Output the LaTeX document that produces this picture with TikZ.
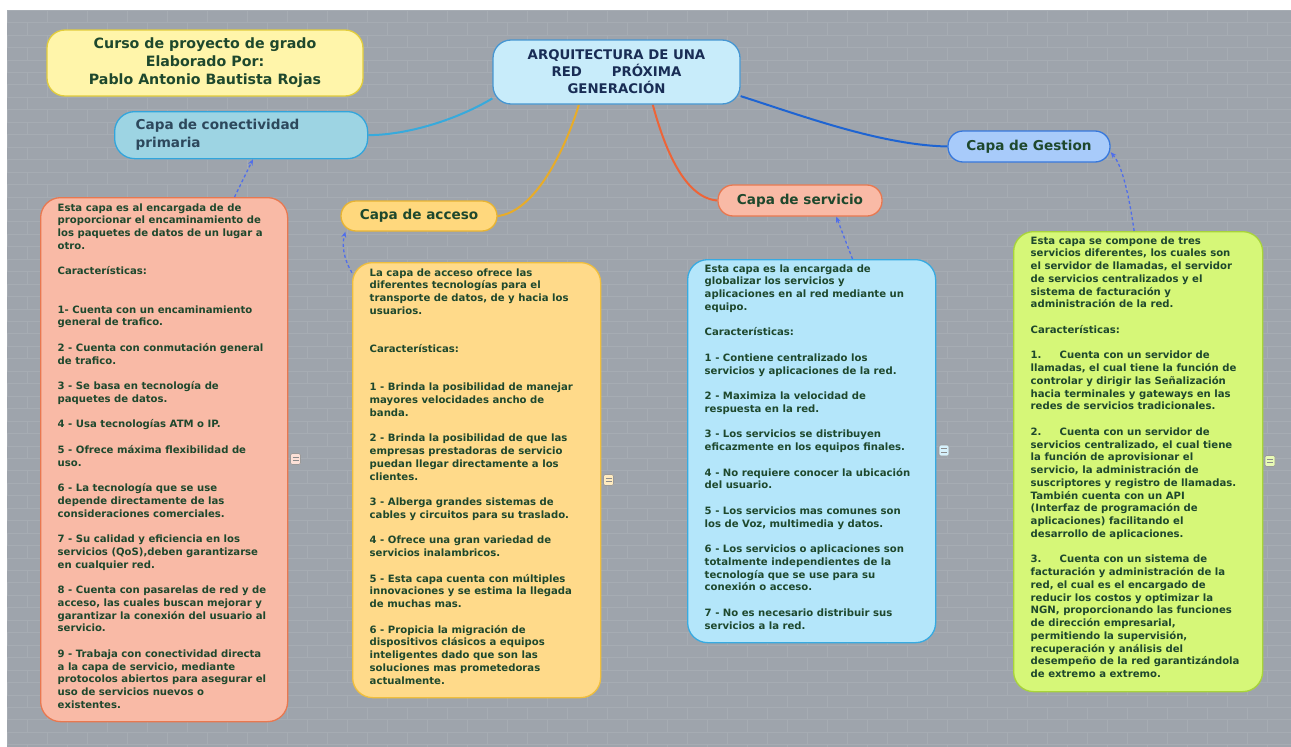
\documentclass[tikz,border=0pt]{standalone}
\usepackage{fontspec}
\setmainfont{DejaVu Sans}
\usetikzlibrary{arrows.meta}

\definecolor{fondo}{RGB}{158,164,172}
\definecolor{ladrillo}{RGB}{166,172,179}
\definecolor{verdeosc}{RGB}{30,72,45}
\definecolor{azultexto}{RGB}{25,45,85}
\definecolor{pizarra}{RGB}{45,72,92}
\definecolor{amarillo}{RGB}{255,245,170}
\definecolor{bordeamarillo}{RGB}{226,205,60}
\definecolor{celeste}{RGB}{200,236,250}
\definecolor{bordeceleste}{RGB}{70,150,210}
\definecolor{turquesa}{RGB}{157,212,227}
\definecolor{bordeturquesa}{RGB}{50,165,220}
\definecolor{naranjaclaro}{RGB}{255,216,125}
\definecolor{bordenaranjaclaro}{RGB}{232,180,50}
\definecolor{salmon}{RGB}{249,186,166}
\definecolor{bordesalmon}{RGB}{232,120,80}
\definecolor{azulclaro}{RGB}{168,203,250}
\definecolor{bordeazulclaro}{RGB}{55,120,220}
\definecolor{notaamarilla}{RGB}{255,218,138}
\definecolor{bordenotaamarilla}{RGB}{240,190,60}
\definecolor{notaazul}{RGB}{180,230,250}
\definecolor{bordenotaazul}{RGB}{55,170,225}
\definecolor{lima}{RGB}{214,247,120}
\definecolor{bordelima}{RGB}{168,212,58}
\definecolor{ramaconect}{RGB}{55,170,220}
\definecolor{ramaacceso}{RGB}{232,172,40}
\definecolor{ramaservicio}{RGB}{238,100,55}
\definecolor{ramagestion}{RGB}{30,100,210}
\definecolor{punteado}{RGB}{80,110,235}

\newcommand{\punto}[1]{\makebox[29pt][l]{#1}}

\pgfdeclarelayer{background}
\pgfsetlayers{background,main}

\begin{document}
\begin{tikzpicture}[x=1pt, y=-1pt,
    capa/.style={draw, line width=1.3pt, rounded corners=15pt, inner sep=0pt,
        font=\fontsize{13.6}{18}\selectfont\bfseries, text=verdeosc},
    nota/.style={draw, line width=1.3pt, rounded corners=20pt, inner sep=0pt, anchor=north west},
    notatexto/.style={anchor=north west, inner sep=0pt, align=left, text=verdeosc,
        font=\fontsize{10.1}{12.75}\selectfont\bfseries},
    rama/.style={line width=2pt},
    relacion/.style={line width=1.3pt, punteado, dash pattern=on 3pt off 2.5pt,
        -{Stealth[length=6pt, width=5pt]}},
    icono/.style={draw=black!40, line width=0.6pt, rounded corners=1.5pt, inner sep=0pt,
        minimum width=10pt, minimum height=11pt,
        path picture={
            \draw[black!45, line width=0.9pt]
                ([xshift=2pt, yshift=-3.6pt]path picture bounding box.north west) --
                ([xshift=-2pt, yshift=-3.6pt]path picture bounding box.north east)
                ([xshift=2pt, yshift=-7.2pt]path picture bounding box.north west) --
                ([xshift=-2pt, yshift=-7.2pt]path picture bounding box.north east);
        }}]

    \useasboundingbox (0,0) rectangle (1291,747);

    % fondo de ladrillos
    \begin{pgfonlayer}{background}
        \fill[white] (0,0) rectangle (1291,747);
        \fill[fondo] (7,10) rectangle (1291,747);
        \foreach \f in {0,...,59} {
            \pgfmathsetmacro{\yy}{10+12.45*\f}
            \pgfmathsetmacro{\dx}{mod(\f,2)*20}
            \draw[ladrillo, line width=0.5pt] (7,\yy) -- (1291,\yy);
            \foreach \k in {0,...,31}
                \draw[ladrillo, line width=0.5pt] (7+\dx+40*\k,\yy) -- ++(0,12.45);
        }
    \end{pgfonlayer}

    % titulo y nodo central
    \node[draw=bordeamarillo, fill=amarillo, line width=1.3pt, rounded corners=18pt,
        minimum width=316pt, minimum height=66pt, align=center, text=verdeosc,
        font=\fontsize{14.2}{18}\selectfont\bfseries] (curso) at (205,63)
        {Curso de proyecto de grado\\Elaborado Por:\\Pablo Antonio Bautista Rojas};
    \node[draw=bordeceleste, fill=celeste, line width=1.3pt, rounded corners=18pt,
        minimum width=247pt, minimum height=64pt, align=center, text=azultexto,
        font=\fontsize{13.3}{17}\selectfont\bfseries] (arq) at (616.5,72)
        {ARQUITECTURA DE UNA\\RED\hspace{30pt}PRÓXIMA\\GENERACIÓN};

    % capas
    \node[capa, draw=bordeturquesa, fill=turquesa, text=pizarra, rounded corners=20pt,
        text width=211pt, align=left, inner xsep=21pt, minimum height=47pt,
        anchor=north west] (conect) at (114,111) {Capa de conectividad\\primaria};
    \node[capa, draw=bordenaranjaclaro, fill=naranjaclaro, minimum width=156pt,
        minimum height=30pt] (acc) at (419,216) {Capa de acceso};
    \node[capa, draw=bordesalmon, fill=salmon, minimum width=164pt,
        minimum height=31pt] (serv) at (800,200.5) {Capa de servicio};
    \node[capa, draw=bordeazulclaro, fill=azulclaro, minimum width=162pt,
        minimum height=31pt] (ges) at (1029,146.5) {Capa de Gestion};

    % ramas
    \begin{pgfonlayer}{background}
        \draw[rama, ramaconect] (arq.192) .. controls (460,118) and (410,135) .. (conect.east);
        \draw[rama, ramaacceso] (arq.221) .. controls (565,150) and (535,212) .. (acc.east);
        \draw[rama, ramaservicio] (arq.318) .. controls (665,150) and (685,198) .. (serv.west);
        \draw[rama, ramagestion] (arq.349) .. controls (800,115) and (880,145) .. (ges.west);
    \end{pgfonlayer}

    % notas
    \node[nota, fill=salmon, draw=bordesalmon, minimum width=247pt, minimum height=524pt]
        (nA) at (40,197) {};
    \node[notatexto] (tA) at ([shift={(17.5,5)}]nA.north west) {\strut
        Esta capa es al encargada de de\\
        proporcionar el encaminamiento de\\
        los paquetes de datos de un lugar a\\
        otro.\\[12.75pt]
        Características:\\[25.5pt]
        1- Cuenta con un encaminamiento\\
        general de trafico.\\[12.75pt]
        2 - Cuenta con conmutación general\\
        de trafico.\\[12.75pt]
        3 - Se basa en tecnología de\\
        paquetes de datos.\\[12.75pt]
        4 - Usa tecnologías ATM o IP.\\[12.75pt]
        5 - Ofrece máxima flexibilidad de\\
        uso.\\[12.75pt]
        6 - La tecnología que se use\\
        depende directamente de las\\
        consideraciones comerciales.\\[12.75pt]
        7 - Su calidad y eficiencia en los\\
        servicios (QoS),deben garantizarse\\
        en cualquier red.\\[12.75pt]
        8 - Cuenta con pasarelas de red y de\\
        acceso, las cuales buscan mejorar y\\
        garantizar la conexión del usuario al\\
        servicio.\\[12.75pt]
        9 - Trabaja con conectividad directa\\
        a la capa de servicio, mediante\\
        protocolos abiertos para asegurar el\\
        uso de servicios nuevos o\\
        existentes.};

    \node[nota, fill=notaamarilla, draw=bordenotaamarilla, minimum width=248pt,
        minimum height=435pt] (nB) at (352,262) {};
    \node[notatexto] (tB) at ([shift={(17.5,5)}]nB.north west) {\strut
        La capa de acceso ofrece las\\
        diferentes tecnologías para el\\
        transporte de datos, de y hacia los\\
        usuarios.\\[25.5pt]
        Características:\\[25.5pt]
        1 - Brinda la posibilidad de manejar\\
        mayores velocidades ancho de\\
        banda.\\[12.75pt]
        2 - Brinda la posibilidad de que las\\
        empresas prestadoras de servicio\\
        puedan llegar directamente a los\\
        clientes.\\[12.75pt]
        3 - Alberga grandes sistemas de\\
        cables y circuitos para su traslado.\\[12.75pt]
        4 - Ofrece una gran variedad de\\
        servicios inalambricos.\\[12.75pt]
        5 - Esta capa cuenta con múltiples\\
        innovaciones y se estima la llegada\\
        de muchas mas.\\[12.75pt]
        6 - Propicia la migración de\\
        dispositivos clásicos a equipos\\
        inteligentes dado que son las\\
        soluciones mas prometedoras\\
        actualmente.};

    \node[nota, fill=notaazul, draw=bordenotaazul, minimum width=248pt,
        minimum height=383pt] (nC) at (687,259) {};
    \node[notatexto] (tC) at ([shift={(17.5,4)}]nC.north west) {\strut
        Esta capa es la encargada de\\
        globalizar los servicios y\\
        aplicaciones en al red mediante un\\
        equipo.\\[12.75pt]
        Características:\\[12.75pt]
        1 - Contiene centralizado los\\
        servicios y aplicaciones de la red.\\[12.75pt]
        2 - Maximiza la velocidad de\\
        respuesta en la red.\\[12.75pt]
        3 - Los servicios se distribuyen\\
        eficazmente en los equipos finales.\\[12.75pt]
        4 - No requiere conocer la ubicación\\
        del usuario.\\[12.75pt]
        5 - Los servicios mas comunes son\\
        los de Voz, multimedia y datos.\\[12.75pt]
        6 - Los servicios o aplicaciones son\\
        totalmente independientes de la\\
        tecnología que se use para su\\
        conexión o acceso.\\[12.75pt]
        7 - No es necesario distribuir sus\\
        servicios a la red.};

    \node[nota, fill=lima, draw=bordelima, minimum width=249pt,
        minimum height=460pt] (nD) at (1013,231) {};
    \node[notatexto] (tD) at ([shift={(17.5,4)}]nD.north west) {\strut
        Esta capa se compone de tres\\
        servicios diferentes, los cuales son\\
        el servidor de llamadas, el servidor\\
        de servicios centralizados y el\\
        sistema de facturación y\\
        administración de la red.\\[12.75pt]
        Características:\\[12.75pt]
        \punto{1.}Cuenta con un servidor de\\
        llamadas, el cual tiene la función de\\
        controlar y dirigir las Señalización\\
        hacia terminales y gateways en las\\
        redes de servicios tradicionales.\\[12.75pt]
        \punto{2.}Cuenta con un servidor de\\
        servicios centralizado, el cual tiene\\
        la función de aprovisionar el\\
        servicio, la administración de\\
        suscriptores y registro de llamadas.\\
        También cuenta con un API\\
        (Interfaz de programación de\\
        aplicaciones) facilitando el\\
        desarrollo de aplicaciones.\\[12.75pt]
        \punto{3.}Cuenta con un sistema de\\
        facturación y administración de la\\
        red, el cual es el encargado de\\
        reducir los costos y optimizar la\\
        NGN, proporcionando las funciones\\
        de dirección empresarial,\\
        permitiendo la supervisión,\\
        recuperación y análisis del\\
        desempeño de la red garantizándola\\
        de extremo a extremo.};

    % iconos de nota
    \node[icono, fill=salmon!45!white] (iA) at (295.5,459) {};
    \node[icono, fill=notaamarilla!55!white] (iB) at (608.5,480) {};
    \node[icono, fill=notaazul!55!white] (iC) at (944,450.5) {};
    \node[icono, fill=lima!55!white] (iD) at (1270,461) {};

    % relaciones punteadas
    \draw[relacion] (nA.75) -- (conect.296);
    \draw[relacion] (nB.121) .. controls (343,258) and (342,244) .. (acc.192);
    \draw[relacion] (nC.78) -- (serv.336);
    \draw[relacion] (nD.91) .. controls (1129,195) and (1122,165) .. (ges.356);
\end{tikzpicture}
\end{document}
